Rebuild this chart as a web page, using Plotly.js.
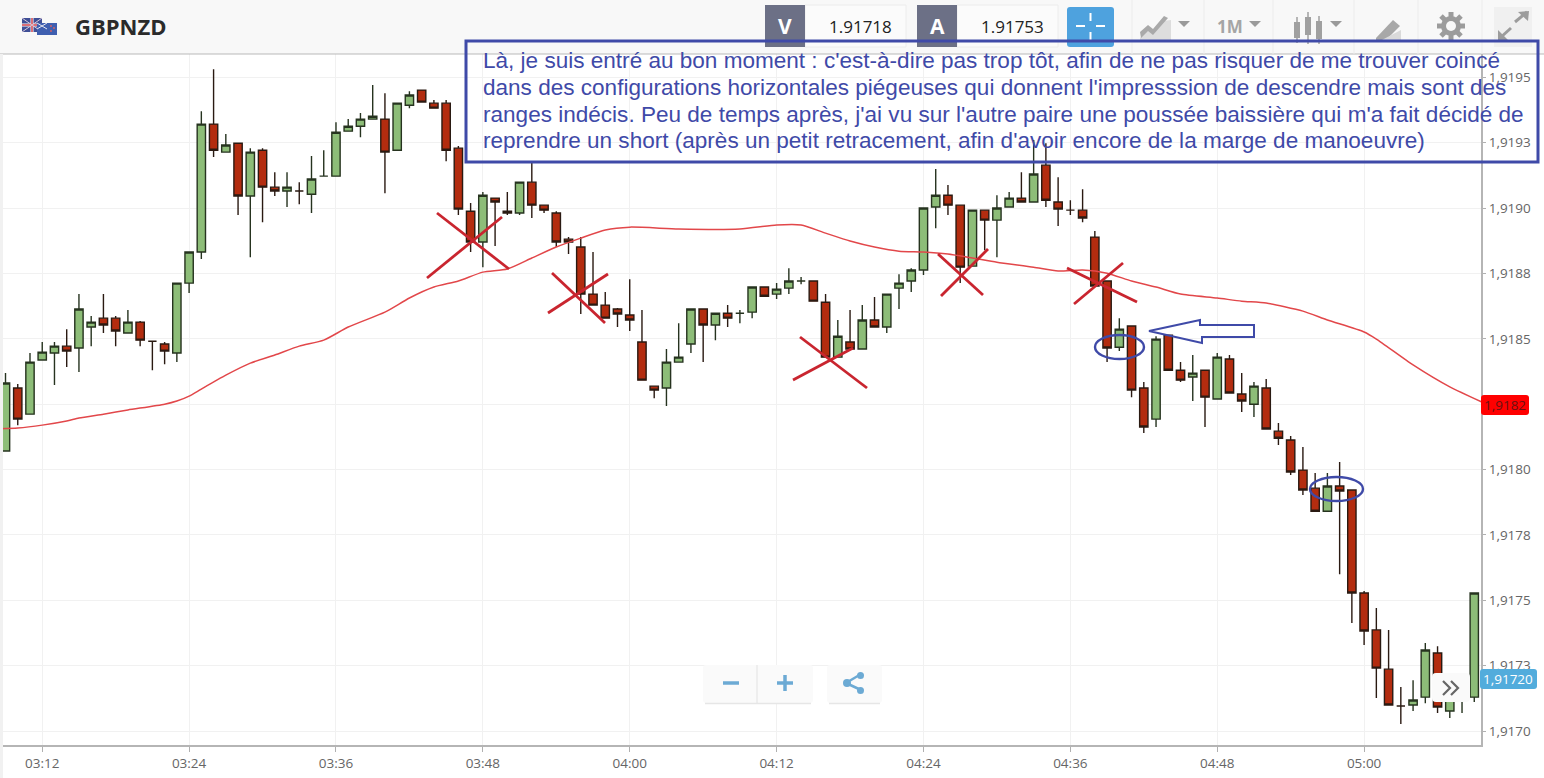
<!DOCTYPE html>
<html><head><meta charset="utf-8">
<script src="https://cdn.plot.ly/plotly-3.0.1.min.js"></script>
<style>html,body{margin:0;padding:0;background:#fff;overflow:hidden}#chart{width:1544px;height:778px}</style>
</head><body><div id="chart"></div>
<script>
const times=["03:09","03:10","03:11","03:12","03:13","03:14","03:15","03:16","03:17","03:18","03:19","03:20","03:21","03:22","03:23","03:24","03:25","03:26","03:27","03:28","03:29","03:30","03:31","03:32","03:33","03:34","03:35","03:36","03:37","03:38","03:39","03:40","03:41","03:42","03:43","03:44","03:45","03:46","03:47","03:48","03:49","03:50","03:51","03:52","03:53","03:54","03:55","03:56","03:57","03:58","03:59","04:00","04:01","04:02","04:03","04:04","04:05","04:06","04:07","04:08","04:09","04:10","04:11","04:12","04:13","04:14","04:15","04:16","04:17","04:18","04:19","04:20","04:21","04:22","04:23","04:24","04:25","04:26","04:27","04:28","04:29","04:30","04:31","04:32","04:33","04:34","04:35","04:36","04:37","04:38","04:39","04:40","04:41","04:42","04:43","04:44","04:45","04:46","04:47","04:48","04:49","04:50","04:51","04:52","04:53","04:54","04:55","04:56","04:57","04:58","04:59","05:00","05:01","05:02","05:03","05:04","05:05","05:06","05:07","05:08","05:09"];
const open=[1.918071,1.918312,1.918212,1.918419,1.918446,1.918472,1.918465,1.918545,1.918579,1.918579,1.918522,1.918564,1.918491,1.918480,1.918446,1.918713,1.918832,1.919321,1.919214,1.919248,1.919046,1.919221,1.919080,1.919065,1.919065,1.919053,1.919122,1.919122,1.919294,1.919313,1.919340,1.919340,1.919221,1.919393,1.919451,1.919401,1.919401,1.919229,1.918988,1.918870,1.919038,1.918988,1.918981,1.919099,1.919011,1.918981,1.918881,1.918851,1.918671,1.918629,1.918614,1.918591,1.918488,1.918319,1.918312,1.918411,1.918480,1.918614,1.918553,1.918598,1.918598,1.918602,1.918698,1.918671,1.918694,1.918721,1.918721,1.918640,1.918430,1.918488,1.918461,1.918572,1.918545,1.918694,1.918721,1.918763,1.919004,1.919049,1.919011,1.918778,1.918992,1.918954,1.919004,1.919038,1.919023,1.919164,1.919023,1.918992,1.918992,1.918889,1.918721,1.918468,1.918549,1.918312,1.918193,1.918514,1.918380,1.918354,1.918380,1.918270,1.918423,1.918289,1.918250,1.918312,1.918147,1.918113,1.917998,1.917929,1.917841,1.917937,1.917922,1.917528,1.917387,1.917237,1.917096,1.917100,1.917130,1.917299,1.917077,1.917127,1.917130];
const high=[1.918369,1.918327,1.918446,1.918488,1.918488,1.918537,1.918671,1.918587,1.918671,1.918587,1.918610,1.918568,1.918491,1.918488,1.918713,1.918832,1.919370,1.919531,1.919283,1.919248,1.919229,1.919229,1.919137,1.919137,1.919099,1.919199,1.919221,1.919328,1.919340,1.919363,1.919470,1.919439,1.919401,1.919447,1.919451,1.919413,1.919413,1.919237,1.919019,1.919061,1.919038,1.919061,1.919099,1.919172,1.919011,1.918988,1.918889,1.918889,1.918832,1.918679,1.918618,1.918728,1.918610,1.918319,1.918461,1.918560,1.918614,1.918614,1.918598,1.918629,1.918610,1.918698,1.918698,1.918713,1.918770,1.918736,1.918721,1.918671,1.918572,1.918610,1.918629,1.918660,1.918671,1.918747,1.918770,1.919000,1.919149,1.919088,1.919011,1.918992,1.918992,1.919049,1.919061,1.919137,1.919260,1.919248,1.919118,1.919030,1.919072,1.918912,1.918721,1.918579,1.918549,1.918335,1.918510,1.918514,1.918411,1.918438,1.918380,1.918446,1.918438,1.918369,1.918335,1.918346,1.918178,1.918128,1.918086,1.917987,1.917987,1.918029,1.917922,1.917536,1.917471,1.917387,1.917169,1.917195,1.917337,1.917325,1.917119,1.917127,1.917528];
const low=[1.918071,1.918170,1.918212,1.918419,1.918323,1.918392,1.918373,1.918472,1.918522,1.918472,1.918522,1.918472,1.918380,1.918403,1.918411,1.918675,1.918805,1.919195,1.919214,1.918973,1.918812,1.918946,1.919046,1.919004,1.919015,1.918981,1.919122,1.919122,1.919294,1.919271,1.919340,1.919057,1.919221,1.919382,1.919405,1.919382,1.919179,1.918973,1.918832,1.918774,1.918855,1.918973,1.918973,1.918962,1.918981,1.918851,1.918824,1.918595,1.918629,1.918579,1.918545,1.918530,1.918342,1.918273,1.918243,1.918411,1.918446,1.918411,1.918495,1.918545,1.918560,1.918579,1.918663,1.918652,1.918671,1.918709,1.918644,1.918430,1.918430,1.918461,1.918461,1.918545,1.918522,1.918614,1.918679,1.918744,1.918923,1.918973,1.918713,1.918778,1.918839,1.918812,1.919004,1.919023,1.919023,1.919004,1.918931,1.918973,1.918946,1.918702,1.918411,1.918453,1.918277,1.918140,1.918163,1.918380,1.918335,1.918262,1.918163,1.918270,1.918293,1.918220,1.918201,1.918155,1.918094,1.917979,1.917903,1.917841,1.917841,1.917600,1.917413,1.917329,1.917127,1.917100,1.917027,1.917077,1.917107,1.917069,1.917050,1.917069,1.917111];
const close=[1.918331,1.918193,1.918411,1.918449,1.918472,1.918453,1.918614,1.918564,1.918553,1.918530,1.918564,1.918495,1.918491,1.918453,1.918713,1.918832,1.919321,1.919221,1.919241,1.919046,1.919214,1.919080,1.919065,1.919080,1.919065,1.919111,1.919122,1.919290,1.919313,1.919340,1.919351,1.919214,1.919401,1.919432,1.919405,1.919382,1.919221,1.918996,1.918870,1.919049,1.919023,1.918981,1.919099,1.919011,1.918992,1.918870,1.918870,1.918671,1.918629,1.918579,1.918595,1.918572,1.918342,1.918304,1.918411,1.918430,1.918614,1.918553,1.918598,1.918579,1.918598,1.918698,1.918663,1.918690,1.918721,1.918721,1.918644,1.918430,1.918510,1.918461,1.918572,1.918545,1.918671,1.918713,1.918763,1.919000,1.919049,1.919011,1.918774,1.918992,1.918954,1.919000,1.919038,1.919023,1.919130,1.919030,1.918996,1.918992,1.918962,1.918702,1.918465,1.918537,1.918304,1.918163,1.918499,1.918380,1.918342,1.918369,1.918277,1.918430,1.918293,1.918262,1.918319,1.918155,1.918120,1.917991,1.917922,1.917841,1.917937,1.917918,1.917528,1.917383,1.917241,1.917100,1.917096,1.917119,1.917310,1.917092,1.917119,1.917127,1.917528];
const maTimes=["03:08","03:10","03:12","03:14","03:15","03:17","03:19","03:22","03:23","03:24","03:25","03:27","03:29","03:31","03:33","03:35","03:37","03:40","03:42","03:44","03:46","03:48","03:50","03:52","03:54","03:56","03:58","04:00","04:04","04:09","04:12","04:14","04:16","04:18","04:20","04:22","04:24","04:26","04:28","04:30","04:33","04:35","04:37","04:39","04:41","04:43","04:45","04:48","04:50","04:52","04:55","04:57","05:00","05:01","05:04","05:07","05:10"];
const maValues=[1.918155,1.918159,1.918170,1.918186,1.918197,1.918212,1.918228,1.918250,1.918262,1.918281,1.918308,1.918361,1.918407,1.918438,1.918472,1.918495,1.918545,1.918602,1.918656,1.918698,1.918721,1.918755,1.918767,1.918809,1.918851,1.918885,1.918916,1.918927,1.918920,1.918920,1.918935,1.918935,1.918904,1.918874,1.918851,1.918835,1.918832,1.918824,1.918809,1.918793,1.918774,1.918759,1.918763,1.918751,1.918721,1.918698,1.918671,1.918656,1.918644,1.918637,1.918606,1.918572,1.918526,1.918499,1.918400,1.918316,1.918250];
const xTickTimes=["03:12","03:24","03:36","03:48","04:00","04:12","04:24","04:36","04:48","05:00"];
const yTickValues=[1.9170,1.91725,1.9175,1.91775,1.9180,1.91825,1.9185,1.91875,1.9190,1.91925,1.9195];
const yTickLabels=["1,9170","1,9173","1,9175","1,9178","1,9180","","1,9185","1,9188","1,9190","1,9193","1,9195"];
const symbol="GBPNZD", bidLabel="V", bidValue="1.91718", askLabel="A", askValue="1.91753";
const maTag="1,9182", lastTag="1,91720", periodLabel="1M";
const noteLines=["Là, je suis entré au bon moment : c'est-à-dire pas trop tôt, afin de ne pas risquer de me trouver coincé",
"dans des configurations horizontales piégeuses qui donnent l'impresssion de descendre mais sont des",
"ranges indécis. Peu de temps après, j'ai vu sur l'autre paire une poussée baissière qui m'a fait décidé de",
"reprendre un short (après un petit retracement, afin d'avoir encore de la marge de manoeuvre)"];

const D=t=>"2017-03-06 "+t+":00";
const L=1481,T=54,B=745;
const px=x=>x/L, py=y=>(B-y)/(B-T);
const shapes=[],annotations=[];
function rect(x0,y0,x1,y1,fill,line,lw){shapes.push({type:'rect',xref:'paper',yref:'paper',x0:px(x0),x1:px(x1),y0:py(y0),y1:py(y1),fillcolor:fill||'rgba(0,0,0,0)',line:{color:line||'rgba(0,0,0,0)',width:line?(lw||1):0},layer:'above'});}
function seg(x0,y0,x1,y1,c,w){shapes.push({type:'line',xref:'paper',yref:'paper',x0:px(x0),x1:px(x1),y0:py(y0),y1:py(y1),line:{color:c,width:w},layer:'above'});}
function poly(pts,fill,line,lw,closed){const d=pts.map((p,i)=>(i?'L':'M')+px(p[0])+','+py(p[1])).join(' ')+(closed===false?'':' Z');shapes.push({type:'path',xref:'paper',yref:'paper',path:d,fillcolor:fill||'rgba(0,0,0,0)',line:{color:line||'rgba(0,0,0,0)',width:line?lw:0},layer:'above'});}
function rrect(x0,y0,x1,y1,r,fill,line){const P=(x,y)=>px(x)+','+py(y);
 const d=`M${P(x0+r,y0)} L${P(x1-r,y0)} Q${P(x1,y0)} ${P(x1,y0+r)} L${P(x1,y1-r)} Q${P(x1,y1)} ${P(x1-r,y1)} L${P(x0+r,y1)} Q${P(x0,y1)} ${P(x0,y1-r)} L${P(x0,y0+r)} Q${P(x0,y0)} ${P(x0+r,y0)} Z`;
 shapes.push({type:'path',xref:'paper',yref:'paper',path:d,fillcolor:fill,line:{color:line||'rgba(0,0,0,0)',width:line?1:0},layer:'above'});}
function ell(x0,y0,x1,y1,fill,line,lw){shapes.push({type:'circle',xref:'paper',yref:'paper',x0:px(x0),x1:px(x1),y0:py(y0),y1:py(y1),fillcolor:fill||'rgba(0,0,0,0)',line:{color:line||'rgba(0,0,0,0)',width:line?lw:0},layer:'above'});}
function txt(x,y,s,size,color,anchor,fam,bold){annotations.push({xref:'paper',yref:'paper',x:px(x),y:py(y),text:bold?'<b>'+s+'</b>':s,showarrow:false,xanchor:anchor||'left',yanchor:'middle',font:{size:size,color:color,family:fam||'"Open Sans",sans-serif'},borderpad:0,borderwidth:0});}

// top bar
rect(0,0,1544,54,'#f8f8f8');
seg(0,54,1544,54,'#b9b9b9',1);
rect(0,54,3,778,'#f1f1f1');
// flags
rect(22,18,42,32,'#3f4f96'); seg(22,25,42,25,'#ffffff',3); seg(32,18,32,32,'#ffffff',3); seg(22,25,42,25,'#d0404a',1.5); seg(32,18,32,32,'#d0404a',1.5);
seg(22,18,42,32,'#d8c8d8',1); seg(22,32,42,18,'#d8c8d8',1);
rect(37,23,57,35,'#3f5fb0'); seg(37,23,47,29,'#e8e8f0',1); seg(37,29,47,23,'#e8e8f0',1);
ell(50,25,52,27,'#d0606a'); ell(53,27,55,29,'#d0606a'); ell(50,30,52,32,'#d0606a');
txt(75,26,symbol,22,'#2b2b2b','left',null,true);
// V / A boxes
rect(805,5,906,47,'#fbfbfb','#ececec',1); rect(765,5,805,47,'#6c7086');
rect(957,5,1058,47,'#fbfbfb','#ececec',1); rect(917,5,957,47,'#6c7086');
txt(785,26,bidLabel,21,'#ffffff','center',null,true); txt(937,26,askLabel,21,'#ffffff','center',null,true);
txt(829,26,bidValue,17,'#222222'); txt(981,26,askValue,17,'#222222');
rrect(1067,7,1114,47,3,'#4ea2de');
seg(1090.5,13,1090.5,21,'#ffffff',2); seg(1090.5,32,1090.5,41,'#ffffff',2); seg(1076,26,1085,26,'#ffffff',2); seg(1096,26,1105,26,'#ffffff',2);
[1132,1204,1273,1354,1418,1482].forEach(x=>seg(x,0,x,54,'#ececec',1));
// toolbar icons
poly([[1140,38],[1148,29],[1153,33],[1163,21],[1171,20],[1171,40],[1140,40]],'#dddddd');
poly([[1140,32],[1148,25],[1153,29],[1164,16],[1168,18],[1153,35],[1148,31],[1141,38]],'#a9a9a9');
poly([[1178,21],[1190,21],[1184,27]],'#9a9a9a');
txt(1217,26,periodLabel,17,'#a5a5a5','left',null,true);
poly([[1249,21],[1261,21],[1255,27]],'#9a9a9a');
[[1297,22,38,17,43],[1308,17,35,12,44],[1319,21,39,16,44]].forEach(c=>{rect(c[0]-3,c[1],c[0]+3,c[2],'#a0a0a0');seg(c[0],c[3],c[0],c[4],'#a0a0a0',1.5);});
poly([[1330,21],[1342,21],[1336,27]],'#9a9a9a');
poly([[1376,38],[1393,20],[1400,26],[1384,42],[1376,42]],'#a8a8a8');
poly([[1378,42],[1401,30],[1401,42]],'#dadada');
// gear
seg(1451,12,1451,40,'#9c9c9c',5); seg(1437,26,1465,26,'#9c9c9c',5); seg(1441,16,1461,36,'#9c9c9c',5); seg(1441,36,1461,16,'#9c9c9c',5);
ell(1441,16,1461,36,'#9c9c9c'); ell(1446,21,1456,31,'#f8f8f8');
rect(1494,7,1532,47,'#f0f0f0');
seg(1515,22,1527,12,'#9c9c9c',3); poly([[1518,12],[1529,11],[1528,21]],'#9c9c9c');
seg(1511,28,1500,38,'#9c9c9c',3); poly([[1498,30],[1498,42],[1509,41]],'#9c9c9c');
// value tags
rrect(1481,395,1529,415,3,'#ff0000');
txt(1505,405,maTag,13.5,'#6a1212','center');
rrect(1480,669,1537,689,3,'#52acdc');
txt(1508.5,679,lastTag,13.5,'#ffffff','center');
// zoom + share
rrect(703,665,813,703,3,'#fafafa');  seg(705,703.5,811,703.5,'#e6e6e6',1.5);
seg(757,665,757,703,'#e2e2e2',1);
seg(723,683,739,683,'#6caad4',3.5); seg(777,683,793,683,'#6caad4',3.5); seg(785,675,785,691,'#6caad4',3.5);
rrect(827,665,882,703,3,'#fafafa'); seg(829,703.5,880,703.5,'#e6e6e6',1.5);
seg(846,683,861,674,'#6caad4',2.5); seg(846,683,861,690,'#6caad4',2.5);
ell(843,679,851,687,'#6caad4'); ell(857,672,864,679,'#6caad4'); ell(857,687,864,694,'#6caad4');
// chevrons
rrect(1432,673,1470,702,4,'#fafafa');
poly([[1443,681],[1450,688],[1443,695]],null,'#666666',2.2,false);
poly([[1451,681],[1458,688],[1451,695]],null,'#666666',2.2,false);
// red crosses
const crossColor='#c9252f';
[[437,213,509,269],[427,278,502,217],[552,273,605,323],[548,313,608,274],[800,337,867,388],[793,380,853,348],[938,254,983,295],[941,296,988,249],[1067,268,1137,302],[1074,304,1123,263]].forEach(s=>seg(s[0],s[1],s[2],s[3],crossColor,2.8));
// blue markup
const blue='#3f4aa8';
ell(1095,335,1144,359,null,blue,2.4); ell(1310,477,1363,501,null,blue,2.4);
poly([[1149,331],[1200,320],[1200,325],[1254,325],[1254,337],[1202,337],[1202,343]],null,blue,2);
rect(466,41,1538,162,null,blue,3);
noteLines.forEach((s,i)=>txt(483,[61,88,114,140][i],s,22.55,blue,'left','"Liberation Sans",Arial,sans-serif'));

const data=[{type:'candlestick',x:times.map(D),open:open,high:high,low:low,close:close,
 increasing:{line:{color:'#26331f',width:1.4},fillcolor:'#8dbd78'},
 decreasing:{line:{color:'#2a1a12',width:1.4},fillcolor:'#b32c0f'},hoverinfo:'skip',showlegend:false},
 {type:'scatter',mode:'lines',x:maTimes.map(D),y:maValues,line:{color:'#e2474a',width:1.5,shape:'spline',smoothing:0.6},hoverinfo:'skip',showlegend:false}];

const layout={width:1544,height:778,margin:{l:0,r:63,t:54,b:33,pad:0},paper_bgcolor:'#ffffff',plot_bgcolor:'#ffffff',showlegend:false,boxgap:0.2,boxgroupgap:0.15,
 font:{family:'"Open Sans",sans-serif',color:'#666666'},
 xaxis:{type:'date',range:['2017-03-06 03:08:33','2017-03-06 05:09:33'],rangeslider:{visible:false},tickmode:'array',tickvals:xTickTimes.map(D),ticktext:xTickTimes,
   ticks:'outside',ticklen:5,tickcolor:'#b0b0b0',tickfont:{size:13.5,color:'#666666'},showgrid:true,gridcolor:'#f1f1f1',gridwidth:1,showline:true,linecolor:'#b5b5b5',linewidth:2,zeroline:false,fixedrange:true},
 yaxis:{side:'right',range:[1.916947,1.919589],tickmode:'array',tickvals:yTickValues,ticktext:yTickLabels,ticks:'outside',ticklen:3,tickcolor:'#b0b0b0',
   tickfont:{size:13.5,color:'#666666'},showgrid:true,gridcolor:'#f1f1f1',gridwidth:1,showline:true,linecolor:'#b5b5b5',linewidth:2,zeroline:false,fixedrange:true},
 shapes:shapes,annotations:annotations};
Plotly.newPlot('chart',data,layout,{displayModeBar:false,staticPlot:true});
</script></body></html>
